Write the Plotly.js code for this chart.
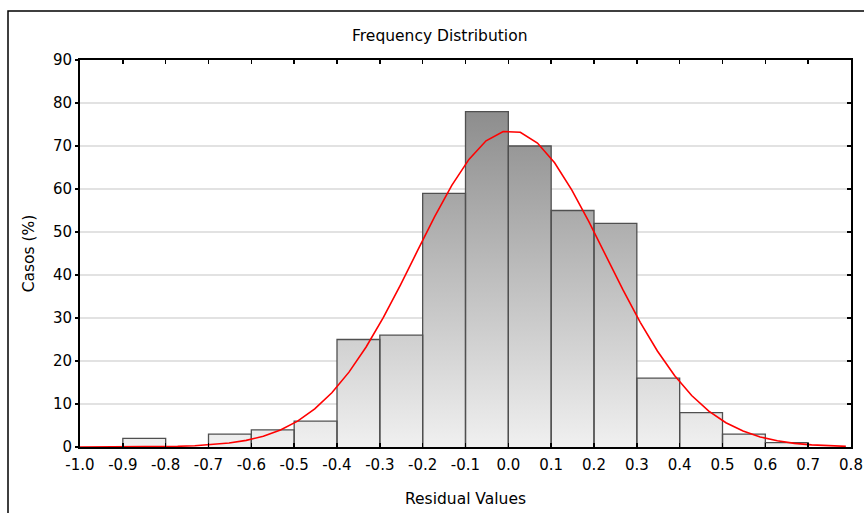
<!DOCTYPE html>
<html>
<head>
<meta charset="utf-8">
<script src="https://cdn.plot.ly/plotly-3.0.1.min.js"></script>
<style>html,body{margin:0;padding:0;background:#fff;}#chart{width:864px;height:513px;}</style>
</head>
<body>
<div id="chart"></div>
<script>
// Histogram bins (left edges, width 0.1) and counts
const binEdges = [-1.0,-0.9,-0.8,-0.7,-0.6,-0.5,-0.4,-0.3,-0.2,-0.1,0.0,0.1,0.2,0.3,0.4,0.5,0.6,0.7,0.8];
const counts   = [0,2,0,3,4,6,25,26,59,78,70,55,52,16,8,3,1,0];

// Fitted curve vertices
const curveX = [-1.0,-0.972,-0.932,-0.892,-0.852,-0.812,-0.772,-0.732,-0.692,-0.652,-0.612,-0.572,-0.532,-0.492,-0.452,-0.412,-0.372,-0.332,-0.292,-0.252,-0.212,-0.172,-0.132,-0.092,-0.052,-0.012,0.028,0.068,0.108,0.148,0.188,0.228,0.268,0.308,0.348,0.388,0.428,0.468,0.508,0.548,0.588,0.628,0.668,0.708,0.748,0.788];
const curveY = [0.0,0.0,0.01,0.02,0.04,0.08,0.16,0.30,0.53,0.92,1.55,2.51,3.95,6.01,8.85,12.61,17.41,23.26,30.08,37.66,45.65,53.56,60.84,66.89,71.21,73.38,73.20,70.69,66.09,59.81,52.40,44.44,36.48,29.0,22.32,16.62,11.98,8.36,5.65,3.70,2.34,1.44,0.85,0.49,0.27,0.15];

const xTicks = [-1.0,-0.9,-0.8,-0.7,-0.6,-0.5,-0.4,-0.3,-0.2,-0.1,0.0,0.1,0.2,0.3,0.4,0.5,0.6,0.7,0.8];
const xTickText = ["-1.0","-0.9","-0.8","-0.7","-0.6","-0.5","-0.4","-0.3","-0.2","-0.1","0.0","0.1","0.2","0.3","0.4","0.5","0.6","0.7","0.8"];
const yTicks = [0,10,20,30,40,50,60,70,80,90];

const titleText = "Frequency Distribution";
const xTitle = "Residual Values";
const yTitle = "Casos (%)";

const FONT = "DejaVu Sans, Arial, sans-serif";

// gradient-filled step area for the bars
const stepY = counts.concat([counts[counts.length - 1]]);
const fillTrace = {
  type: 'scatter', mode: 'lines', x: binEdges, y: stepY,
  line: {shape: 'hv', width: 0, color: 'rgba(0,0,0,0)'},
  fill: 'tozeroy',
  fillgradient: {type: 'vertical', start: 0, stop: 90,
    colorscale: [[0, '#f0f0f0'], [1, '#7e7e7e']]},
  hoverinfo: 'skip', showlegend: false
};

// bar outlines: one closed rectangle per non-empty bin
const outX = [], outY = [];
counts.forEach((c, i) => {
  if (c <= 0) return;
  const l = binEdges[i], r = binEdges[i + 1];
  outX.push(l, l, r, r, null);
  outY.push(0, c, c, 0, null);
});
const outlineTrace = {
  type: 'scatter', mode: 'lines', x: outX, y: outY,
  line: {color: '#505050', width: 1.3}, connectgaps: false,
  hoverinfo: 'skip', showlegend: false
};

const curveTrace = {
  type: 'scatter', mode: 'lines', x: curveX, y: curveY,
  line: {color: '#ff0000', width: 1.6},
  showlegend: false
};

const rightAxisTrace = {type: 'scatter', x: [], y: [], yaxis: 'y2', showlegend: false};

const layout = {
  width: 864, height: 513,
  margin: {l: 80, r: 13, t: 60, b: 66},
  paper_bgcolor: '#ffffff', plot_bgcolor: '#ffffff',
  font: {family: FONT, size: 15, color: '#000000'},
  showlegend: false,
  title: {text: titleText, font: {family: FONT, size: 15.5, color: '#000'},
          xref: 'container', x: 0.509, xanchor: 'center',
          yref: 'container', y: 1 - 36/513, yanchor: 'middle'},
  xaxis: {
    range: [-1.0, 0.8], tickmode: 'array', tickvals: xTicks, ticktext: xTickText,
    ticks: 'inside', ticklen: 4, tickwidth: 1.5, tickcolor: '#000',
    ticklabelstandoff: 3,
    showline: true, linecolor: '#000', linewidth: 2, mirror: 'ticks',
    showgrid: false, zeroline: false,
    tickfont: {family: FONT, size: 15},
    title: {text: xTitle, font: {family: FONT, size: 15.5}, standoff: 20}
  },
  yaxis: {
    range: [0, 90], tickmode: 'array', tickvals: yTicks,
    ticks: 'outside', ticklen: 3, tickwidth: 1.5, tickcolor: '#000',
    showline: true, linecolor: '#000', linewidth: 2, mirror: true,
    showgrid: true, gridcolor: '#e2e2e2', gridwidth: 1.5, zeroline: false,
    tickfont: {family: FONT, size: 15},
    title: {text: yTitle, font: {family: FONT, size: 15.5}, standoff: 14}
  },
  yaxis2: {
    overlaying: 'y', side: 'right', range: [0, 90], tickmode: 'array', tickvals: yTicks,
    ticks: 'inside', ticklen: 4, tickwidth: 1.5, tickcolor: '#000',
    showticklabels: false, showgrid: false, zeroline: false, showline: false
  },
  shapes: [{
    type: 'rect', xref: 'paper', yref: 'paper',
    x0: (8 - 80) / 771, x1: 1.2, y0: -0.6, y1: (447 - 11) / 387,
    line: {color: '#000', width: 1.5}, fillcolor: 'rgba(0,0,0,0)', layer: 'below'
  }]
};

Plotly.newPlot('chart', [fillTrace, outlineTrace, curveTrace, rightAxisTrace], layout,
  {staticPlot: true, displayModeBar: false});
</script>
</body>
</html>
